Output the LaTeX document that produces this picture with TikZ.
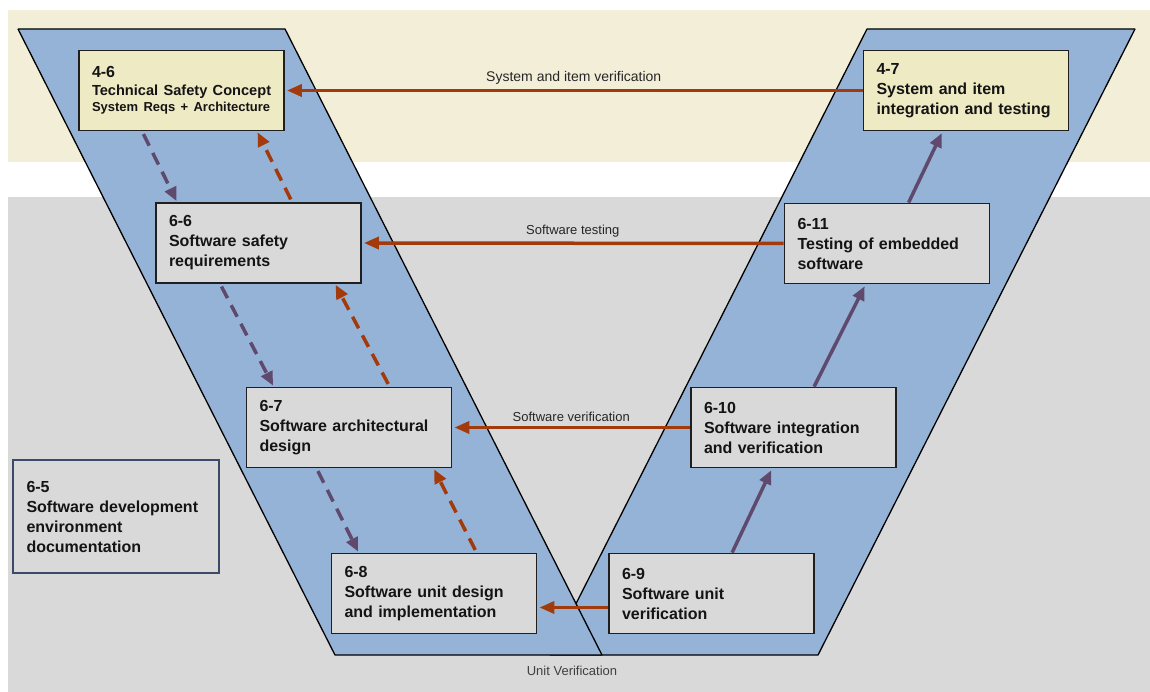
\documentclass[tikz,border=0pt]{standalone}
\usepackage{fontspec}
\setmainfont{Liberation Sans}
\usetikzlibrary{arrows.meta}

\definecolor{bandtop}{HTML}{F3EED8}
\definecolor{bandlow}{HTML}{D9D9D9}
\definecolor{vblue}{HTML}{95B3D7}
\definecolor{sysbox}{HTML}{EEEAC4}
\definecolor{swbox}{HTML}{D9D9D9}
\definecolor{verif}{HTML}{A33A0B}
\definecolor{refine}{HTML}{5F4A6E}
\definecolor{envframe}{HTML}{3B4A69}
\definecolor{labelink}{HTML}{262626}

\begin{document}
\begin{tikzpicture}[x=1pt,y=-1pt,
  phase/.style={rectangle, draw=black!88, line width=1.8pt, fill=swbox,
    minimum width=205pt, minimum height=80pt, text width=179pt,
    inner xsep=13pt, inner ysep=0pt, align=left, text=black!92,
    font=\bfseries\fontsize{16}{20}\selectfont},
  sysphase/.style={phase, fill=sysbox},
  envbox/.style={phase, draw=envframe, line width=1.5pt, minimum width=206pt,
    minimum height=113pt},
  vstrip/.style={fill=vblue, draw=black, line width=1.3pt, line join=bevel},
  verifyarrow/.style={draw=verif, line width=3.5pt,
    -{Triangle[length=15pt,width=12pt]}, shorten >=2pt},
  refinedash/.style={draw=refine, line width=3.5pt, dash pattern=on 13pt off 8pt,
    -{Triangle[length=14pt,width=12pt]}, shorten <=3pt, shorten >=1pt},
  backdash/.style={refinedash, draw=verif},
  integrate/.style={draw=refine, line width=3.5pt,
    -{Triangle[length=14pt,width=12pt]}, shorten >=2pt},
  arrowlabel/.style={above, inner sep=4pt, text=labelink,
    font=\fontsize{13}{15}\selectfont},
]
\useasboundingbox (0,0) rectangle (1150,692);

% system level band and software level band
\fill[bandtop] (8,10) rectangle (1150,162);
\fill[bandlow] (8,197) rectangle (1150,692);

% the two legs of the V
\filldraw[vstrip] (867,29) -- (1135,29) -- (818,655) -- (550,655) -- cycle;
\filldraw[vstrip] (18,29) -- (285,29) -- (602,655) -- (335,655) -- cycle;

% phases
\node[sysphase] (n46) at (181.5,90.5) {4-6\\[-2pt]{\fontsize{14.6}{18}\selectfont\mbox{Technical Safety Concept}}\\[-4pt]{\fontsize{13}{16}\selectfont System Reqs + Architecture}};
\node[sysphase] (n47) at (966,90.5) {4-7\\System and item\\integration and testing};
\node[phase] (n66) at (258.5,243) {6-6\\Software safety\\requirements};
\node[phase] (n67) at (349,427.5) {6-7\\Software architectural\\design};
\node[phase] (n68) at (434,593.5) {6-8\\Software unit design\\and implementation};
\node[phase] (n69) at (711.5,593.5) {6-9\\Software unit\\verification};
\node[phase] (n610) at (793.5,427.5) {6-10\\Software integration\\and verification};
\node[phase] (n611) at (887,243.5) {6-11\\Testing of embedded\\software};
\node[envbox] (n65) at (116,516.5) {6-5\\Software development\\environment\\documentation};

% refinement down the left leg
\draw[refinedash] ([xshift=64pt]n46.south west) -- ([xshift=22pt]n66.north west);
\draw[refinedash] ([xshift=65pt]n66.south west) -- ([xshift=28pt]n67.north west);
\draw[refinedash] ([xshift=71pt]n67.south west) -- ([xshift=28pt]n68.north west);

% feedback up the left leg
\draw[backdash] ([xshift=137pt]n66.north west) -- ([xshift=179pt]n46.south west);
\draw[backdash] ([xshift=144pt]n67.north west) -- ([xshift=180pt]n66.south west);
\draw[backdash] ([xshift=146pt]n68.north west) -- ([xshift=188pt]n67.south west);

% integration up the right leg
\draw[integrate] ([xshift=124pt]n69.north west) -- ([xshift=82pt]n610.south west);
\draw[integrate] ([xshift=124pt]n610.north west) -- ([xshift=82pt]n611.south west);
\draw[integrate] ([xshift=125pt]n611.north west) -- ([xshift=80pt]n47.south west);

% verification across the V
\draw[verifyarrow] (n47.west) -- node[arrowlabel, font=\fontsize{14}{16}\selectfont] {System and item verification} (n46.east);
\draw[verifyarrow] (n611.west) -- node[arrowlabel] {Software testing} (n66.east);
\draw[verifyarrow] (n610.west) -- node[arrowlabel] {Software verification} (n67.east);
\draw[verifyarrow] ([yshift=-14pt]n69.west) -- ([yshift=-14pt]n68.east);

\node[text=black!75, font=\fontsize{13}{15}\selectfont] (uv) at (572,671) {Unit Verification};
\end{tikzpicture}
\end{document}
